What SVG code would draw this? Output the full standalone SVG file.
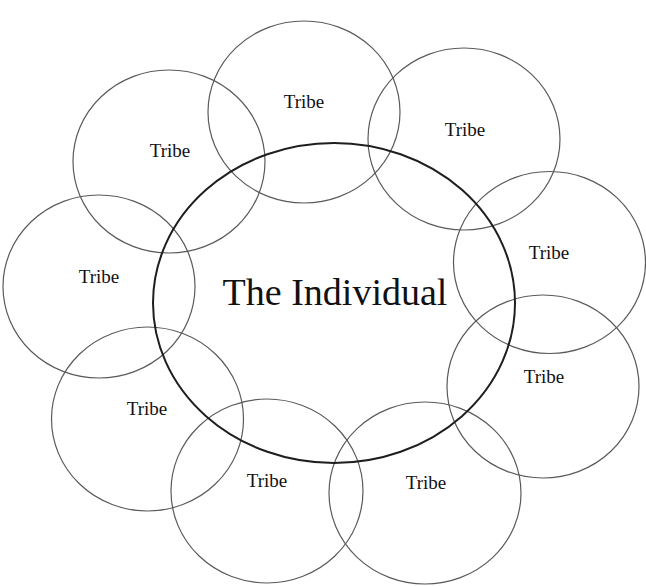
<svg xmlns="http://www.w3.org/2000/svg" width="646" height="586" viewBox="0 0 646 586">
<style>
.tribe ellipse{fill:none;stroke:#5a5a5a;stroke-width:1.2}
.tribe text{font-size:19px;fill:#111;text-anchor:middle}
#individual ellipse{fill:none;stroke:#1e1e1e;stroke-width:2}
#individual text{font-size:38px;fill:#111;text-anchor:middle}
</style>
<rect width="646" height="586" fill="#fff"/>
<g font-family="'Liberation Serif', 'Times New Roman', serif">
<g id="tribe-top" class="tribe"><ellipse cx="304" cy="112" rx="96" ry="91"/><text x="304" y="108">Tribe</text></g>
<g id="tribe-topright" class="tribe"><ellipse cx="464" cy="139" rx="96" ry="91"/><text x="465" y="136">Tribe</text></g>
<g id="tribe-right" class="tribe"><ellipse cx="549.5" cy="262.5" rx="96" ry="91"/><text x="549" y="259">Tribe</text></g>
<g id="tribe-lowerright" class="tribe"><ellipse cx="543" cy="386.5" rx="96" ry="91.5"/><text x="544" y="383">Tribe</text></g>
<g id="tribe-bottomright" class="tribe"><ellipse cx="425" cy="493" rx="96" ry="91"/><text x="426" y="489">Tribe</text></g>
<g id="tribe-bottomleft" class="tribe"><ellipse cx="267" cy="491" rx="96" ry="92"/><text x="267" y="487">Tribe</text></g>
<g id="tribe-lowerleft" class="tribe"><ellipse cx="147.5" cy="419" rx="96" ry="92"/><text x="147" y="415">Tribe</text></g>
<g id="tribe-left" class="tribe"><ellipse cx="99" cy="286.5" rx="96" ry="91.5"/><text x="99" y="283">Tribe</text></g>
<g id="tribe-topleft" class="tribe"><ellipse cx="169" cy="161.5" rx="96" ry="91.5"/><text x="170" y="157">Tribe</text></g>
<g id="individual"><ellipse cx="334" cy="303" rx="181" ry="160"/><text x="335" y="305">The Individual</text></g>
</g>
<g id="connectors"/>
</svg>
